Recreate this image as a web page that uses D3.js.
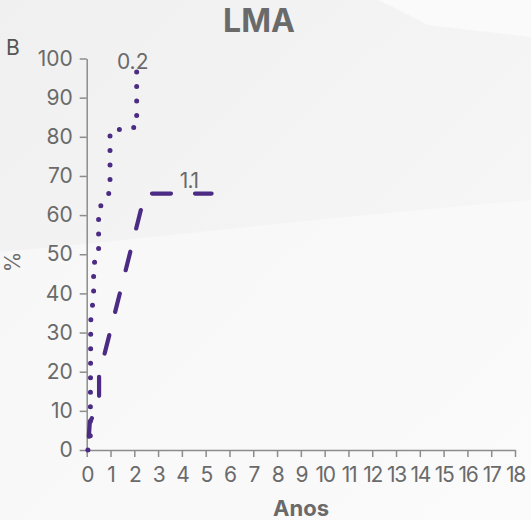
<!DOCTYPE html>
<html>
<head>
<meta charset="utf-8">
<script src="https://cdn.jsdelivr.net/npm/d3@7/dist/d3.min.js"></script>
<style>
  html, body { margin: 0; padding: 0; background: #f2f2f2; }
  svg { display: block; }
</style>
</head>
<body>
<script>
// Cumulative incidence (%) over time (years) for two groups
const xTicks = d3.range(0, 19);
const yTicks = d3.range(0, 101, 10);

const dottedYears = [0.05, 0.15, 0.17, 0.29, 0.29, 0.50, 0.50, 0.98, 0.98, 2.10, 2.10];
const dottedPct   = [0,    3,    33,   39.5, 47.5, 50,   61.5, 66,   81.5, 82.5, 97.5];
const dottedLabel = "0.2";

const dashedYears = [0.05, 0.13, 0.52, 0.52, 2.45, 5.25];
const dashedPct   = [0,    7,    12,   19,   65.5, 65.5];
const dashedLabel = "1.1";

const title = "LMA";
const panel = "B";
const xTitle = "Anos";
const yTitle = "%";

const W = 531, H = 520;
const purple = "#4b2b83";
const grey = "#6a6a6a";
const font = "Inter, 'Open Sans', sans-serif";

const svg = d3.select("body").append("svg").attr("width", W).attr("height", H);

// soft light background
const defs = svg.append("defs");
const g1 = defs.append("linearGradient").attr("id", "bg").attr("x1", 0).attr("y1", 0).attr("x2", 1).attr("y2", 1);
g1.append("stop").attr("offset", 0).attr("stop-color", "#f0f0f0");
g1.append("stop").attr("offset", 0.6).attr("stop-color", "#f5f5f5");
g1.append("stop").attr("offset", 1).attr("stop-color", "#f8f8f8");
svg.append("rect").attr("width", W).attr("height", H).attr("fill", "url(#bg)");
svg.append("path")
  .attr("d", `M0,${H} L0,252 C150,238 350,215 ${W},200 L${W},${H} Z`)
  .attr("fill", "#ffffff").attr("opacity", 0.4);
svg.append("path")
  .attr("d", `M378,0 C400,10 415,18 428,25 C460,29 500,33 ${W},37 L${W},0 Z`)
  .attr("fill", "#fafafa");

const x = d3.scaleLinear().domain([0, 18]).range([86.7, 515]);
const y = d3.scaleLinear().domain([0, 100]).range([450, 58.5]);

// axes
const yAxis = svg.append("g").attr("transform", `translate(${x(0)},0)`)
  .call(d3.axisLeft(y).tickValues(yTicks).tickSize(7).tickPadding(7).tickSizeOuter(0));
const xAxis = svg.append("g").attr("transform", `translate(0,${y(0)})`)
  .call(d3.axisBottom(x).tickValues(xTicks).tickSize(7).tickPadding(10).tickSizeOuter(0));
[xAxis, yAxis].forEach(a => {
  a.selectAll("path, line").attr("stroke", "#8c8c8c").attr("stroke-width", 1.5);
  a.selectAll("text").attr("fill", grey).attr("font-family", font).attr("font-size", 21);
});
xAxis.selectAll("text").attr("letter-spacing", -1.3);

// curves
const line = d3.line().x(d => x(d[0])).y(d => y(d[1]));
const dotted = d3.zip(dottedYears, dottedPct);
const dashed = d3.zip(dashedYears, dashedPct);

const dashOn = 19, dashOff = 24, period = dashOn + dashOff;
const dashedPath = svg.append("path").datum(dashed).attr("d", line)
  .attr("fill", "none").attr("stroke", purple).attr("stroke-width", 4.2)
  .attr("stroke-linecap", "round").attr("stroke-linejoin", "round")
  .attr("stroke-dasharray", `${dashOn} ${dashOff}`);
// start a dash just after the plateau corner
const tmp = svg.append("path").attr("d", line(dashed.slice(0, 5))).attr("fill", "none");
const cornerLen = tmp.node().getTotalLength() + 7;
tmp.remove();
dashedPath.attr("stroke-dashoffset", period - (cornerLen % period));

svg.append("path").datum(dotted).attr("d", line)
  .attr("fill", "none").attr("stroke", purple).attr("stroke-width", 5)
  .attr("stroke-linecap", "round")
  .attr("stroke-dasharray", "0 14.5");

// curve labels
svg.append("text").attr("x", x(dottedYears[dottedYears.length - 1]) - 4).attr("y", y(dottedPct[dottedPct.length - 1]) + 1)
  .attr("text-anchor", "middle").attr("font-family", font).attr("font-size", 21).attr("fill", grey)
  .text(dottedLabel);
svg.append("text").attr("x", x(4.3)).attr("y", y(dashedPct[dashedPct.length - 1]) - 6)
  .attr("text-anchor", "middle").attr("font-family", font).attr("font-size", 21).attr("fill", grey)
  .attr("letter-spacing", -1).text(dashedLabel);

// titles
svg.append("text").attr("x", 259).attr("y", 32).attr("text-anchor", "middle")
  .attr("font-family", font).attr("font-weight", 700).attr("font-size", 32).attr("fill", grey).text(title);
svg.append("text").attr("x", 6).attr("y", 55)
  .attr("font-family", font).attr("font-size", 21).attr("fill", "#555").text(panel);
svg.append("text").attr("x", 301).attr("y", 516).attr("text-anchor", "middle")
  .attr("font-family", font).attr("font-weight", 700).attr("font-size", 22).attr("fill", grey).text(xTitle);
svg.append("text").attr("transform", "translate(20,262) rotate(-90)").attr("text-anchor", "middle")
  .attr("font-family", font).attr("font-size", 21).attr("fill", grey).text(yTitle);
</script>
</body>
</html>
